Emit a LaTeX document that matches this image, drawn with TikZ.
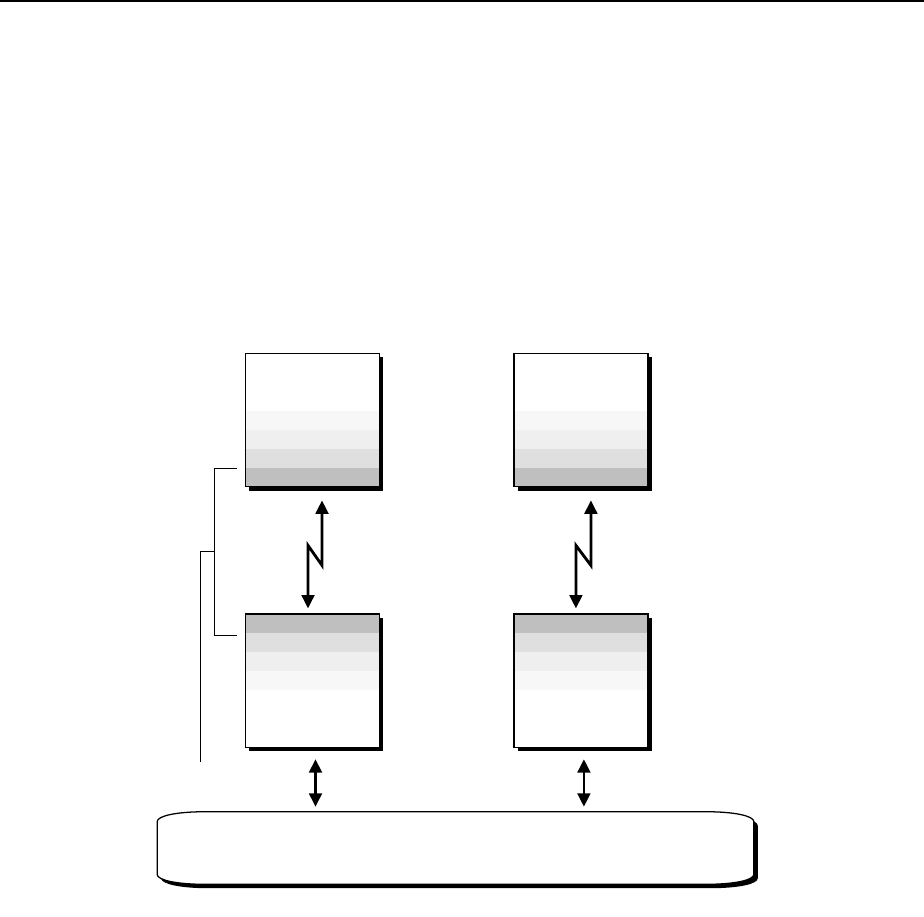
\documentclass[tikz,border=0pt]{standalone}
\usepackage{tikz}
\usetikzlibrary{arrows.meta, positioning, calc, shadows}

\begin{document}
\begin{tikzpicture}[
  x=0.025cm, y=-0.025cm,
  shadowed/.style={drop shadow={shadow xshift=2.8pt, shadow yshift=-2.8pt, opacity=1, fill=black}},
  blk/.style={draw, line width=1.1pt, fill=white, minimum width=3.35cm, minimum height=3.33cm,
              inner sep=0pt, shadowed},
  stripesup/.style={path picture={
      \foreach \g [count=\i from 0] in {25,12.5,6.3,3.2}
        \fill[black!\g] ($(path picture bounding box.south west)+(0,{\i*0.475cm})$)
          rectangle ($(path picture bounding box.south east)+(0,{\i*0.475cm+0.475cm})$);}},
  stripesdown/.style={path picture={
      \foreach \g [count=\i from 0] in {25,12.5,6.3,3.2}
        \fill[black!\g] ($(path picture bounding box.north west)-(0,{\i*0.475cm})$)
          rectangle ($(path picture bounding box.north east)-(0,{\i*0.475cm+0.475cm})$);}},
  arr/.style={{Triangle[length=9.5pt, width=9pt]}-{Triangle[length=9.5pt, width=9pt]}, line width=2pt},
  brk/.style={line width=0.7pt},
  bus/.style={minimum width=14.9cm, minimum height=1.8cm, inner sep=0pt},
  busline/.style={draw, line width=0.9pt, fill=white, shadowed},
]
\useasboundingbox (0,0) rectangle (924,916);

% top rule
\draw[line width=0.8pt] (0,1) -- (924,1);

% upper row
\node[blk, stripesup] (A) at (312.5,420) {};
\node[blk, stripesup, right=3.32cm of A] (B) {};

% lower row
\node[blk, stripesdown, below=3.15cm of A] (C) {};
\node[blk, stripesdown, right=3.32cm of C] (D) {};

% bus
\node[bus] (bus) at (455.5,848) {};
\path[busline]
  ($(bus.north west)+(48,0)$) -- ($(bus.north east)+(-48,0)$)
  .. controls ($(bus.north east)+(-20,0)$) and ($(bus.north east)+(0,4)$) .. ($(bus.north east)+(0,10)$)
  -- ($(bus.south east)+(0,-10)$)
  .. controls ($(bus.south east)+(0,-4)$) and ($(bus.south east)+(-20,0)$) .. ($(bus.south east)+(-48,0)$)
  -- ($(bus.south west)+(48,0)$)
  .. controls ($(bus.south west)+(20,0)$) and ($(bus.south west)+(0,-4)$) .. ($(bus.south west)+(0,-10)$)
  -- ($(bus.north west)+(0,10)$)
  .. controls ($(bus.north west)+(0,4)$) and ($(bus.north west)+(20,0)$) .. cycle;

% radio links
\draw[arr] ($(A.south)+(9.5,13)$) -- ++(0,65) -- ++(-14,-20) -- ($(C.north)+(-4.5,-5)$);
\draw[arr] ($(B.south)+(10,13)$) -- ++(0,65) -- ++(-15,-20) -- ($(D.north)+(-5,-5)$);

% links to bus
\foreach \s in {C,D} { \draw[arr] ($(\s.south)+(3,11)$) -- ($(\s.south |- bus.north)+(3,-5)$); }

% brackets
\coordinate (i1) at ($(A.south west)+(-8,-19)$);
\coordinate (i2) at ($(C.north west)+(-8,22)$);
\draw[brk] (i1) -- ++(-22,0) coordinate (i1l) -- (i1l |- i2) coordinate (i2l) -- (i2);
\draw[brk] ($(i1l)!0.5!(i2l)$) -- ++(-14,0) -- ++(0,210);

\end{tikzpicture}
\end{document}
